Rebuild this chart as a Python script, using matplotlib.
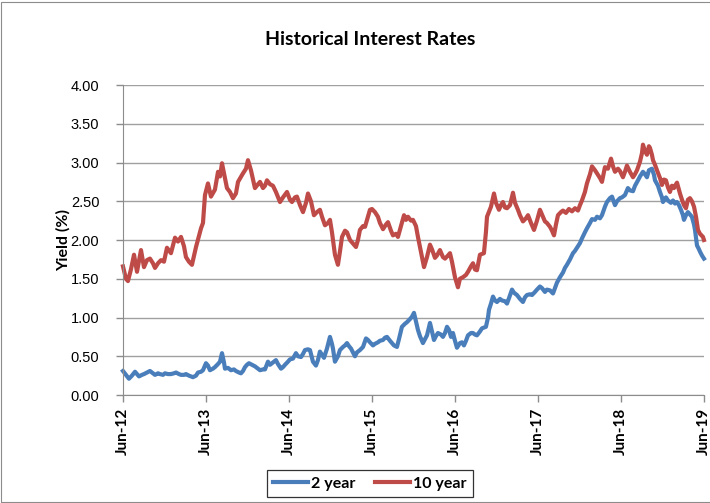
import matplotlib
matplotlib.use("Agg")
import matplotlib.pyplot as plt
from matplotlib.patches import Rectangle

# x positions: years elapsed since June 2012 (10 values per line)
t_10y = [0.000, 0.036, 0.060, 0.096, 0.133, 0.169, 0.217, 0.253, 0.289, 0.325,
         0.361, 0.386, 0.422, 0.458, 0.494, 0.530, 0.578, 0.627, 0.663, 0.699,
         0.735, 0.759, 0.795, 0.831, 0.880, 0.940, 0.964, 0.988, 1.024, 1.060,
         1.108, 1.145, 1.169, 1.193, 1.229, 1.253, 1.289, 1.325, 1.361, 1.386,
         1.446, 1.482, 1.506, 1.542, 1.590, 1.627, 1.651, 1.687, 1.711, 1.735,
         1.771, 1.807, 1.843, 1.892, 1.928, 1.976, 2.012, 2.036, 2.072, 2.096,
         2.133, 2.169, 2.205, 2.229, 2.265, 2.301, 2.337, 2.373, 2.398, 2.434,
         2.470, 2.494, 2.518, 2.554, 2.590, 2.614, 2.639, 2.675, 2.699, 2.735,
         2.759, 2.807, 2.831, 2.855, 2.892, 2.916, 2.952, 2.976, 3.000, 3.036,
         3.072, 3.096, 3.133, 3.169, 3.193, 3.229, 3.253, 3.289, 3.313, 3.349,
         3.386, 3.410, 3.434, 3.470, 3.494, 3.530, 3.554, 3.590, 3.627, 3.663,
         3.699, 3.723, 3.759, 3.783, 3.819, 3.855, 3.880, 3.916, 3.940, 3.964,
         4.000, 4.036, 4.060, 4.096, 4.133, 4.157, 4.193, 4.217, 4.241, 4.265,
         4.301, 4.349, 4.373, 4.386, 4.434, 4.470, 4.494, 4.530, 4.554, 4.578,
         4.602, 4.627, 4.663, 4.699, 4.723, 4.759, 4.783, 4.819, 4.855, 4.880,
         4.916, 4.952, 4.988, 5.024, 5.060, 5.084, 5.108, 5.145, 5.169, 5.193,
         5.217, 5.241, 5.277, 5.301, 5.337, 5.373, 5.410, 5.446, 5.482, 5.506,
         5.530, 5.566, 5.590, 5.627, 5.651, 5.687, 5.711, 5.747, 5.771, 5.807,
         5.843, 5.880, 5.904, 5.928, 5.964, 5.988, 6.024, 6.048, 6.072, 6.108,
         6.145, 6.169, 6.193, 6.229, 6.253, 6.265, 6.289, 6.313, 6.337, 6.349,
         6.373, 6.386, 6.410, 6.434, 6.470, 6.494, 6.518, 6.542, 6.566, 6.590,
         6.614, 6.639, 6.663, 6.675, 6.711, 6.735, 6.759, 6.783, 6.807, 6.831,
         6.855, 6.880, 6.904, 6.928, 6.952, 6.988, 7.000]
v_10y = [1.66, 1.50, 1.47, 1.62, 1.81, 1.59, 1.87, 1.65, 1.74, 1.76,
         1.70, 1.64, 1.70, 1.74, 1.72, 1.90, 1.83, 2.03, 1.98, 2.04,
         1.92, 1.78, 1.72, 1.68, 1.91, 2.15, 2.22, 2.58, 2.73, 2.56,
         2.65, 2.88, 2.82, 2.99, 2.80, 2.67, 2.62, 2.54, 2.60, 2.75,
         2.86, 2.92, 3.03, 2.90, 2.67, 2.72, 2.75, 2.67, 2.70, 2.77,
         2.72, 2.70, 2.62, 2.49, 2.55, 2.62, 2.52, 2.49, 2.55, 2.56,
         2.45, 2.36, 2.48, 2.60, 2.50, 2.32, 2.36, 2.39, 2.30, 2.19,
         2.22, 2.26, 2.10, 1.81, 1.68, 1.85, 2.04, 2.12, 2.10, 2.00,
         1.97, 1.91, 2.00, 2.13, 2.18, 2.17, 2.30, 2.39, 2.40, 2.36,
         2.30, 2.22, 2.14, 2.20, 2.23, 2.12, 2.06, 2.08, 2.04, 2.18,
         2.32, 2.26, 2.30, 2.25, 2.26, 2.18, 2.04, 1.85, 1.65, 1.78,
         1.94, 1.88, 1.77, 1.80, 1.87, 1.78, 1.76, 1.80, 1.83, 1.72,
         1.52, 1.39, 1.50, 1.52, 1.55, 1.59, 1.66, 1.70, 1.62, 1.61,
         1.81, 1.83, 2.10, 2.30, 2.43, 2.60, 2.48, 2.39, 2.45, 2.49,
         2.42, 2.41, 2.45, 2.61, 2.48, 2.39, 2.32, 2.24, 2.28, 2.32,
         2.22, 2.13, 2.25, 2.39, 2.30, 2.24, 2.22, 2.17, 2.12, 2.06,
         2.20, 2.32, 2.36, 2.38, 2.35, 2.40, 2.37, 2.41, 2.38, 2.45,
         2.51, 2.62, 2.73, 2.85, 2.95, 2.90, 2.86, 2.80, 2.75, 2.94,
         2.92, 3.05, 2.95, 2.88, 2.92, 2.89, 2.81, 2.88, 2.96, 2.88,
         2.81, 2.85, 2.90, 3.01, 3.12, 3.23, 3.15, 3.10, 3.21, 3.19,
         3.10, 3.03, 2.97, 2.90, 2.80, 2.71, 2.78, 2.77, 2.68, 2.62,
         2.70, 2.67, 2.72, 2.74, 2.60, 2.52, 2.45, 2.41, 2.52, 2.54,
         2.50, 2.43, 2.30, 2.13, 2.08, 2.04, 2.00]

t_2y = [0.000, 0.036, 0.072, 0.108, 0.145, 0.169, 0.193, 0.229, 0.253, 0.289,
        0.325, 0.361, 0.386, 0.422, 0.446, 0.482, 0.506, 0.542, 0.578, 0.614,
        0.639, 0.675, 0.699, 0.735, 0.759, 0.795, 0.819, 0.843, 0.880, 0.904,
        0.940, 0.964, 1.000, 1.024, 1.048, 1.084, 1.108, 1.145, 1.169, 1.193,
        1.217, 1.229, 1.265, 1.301, 1.337, 1.361, 1.398, 1.422, 1.446, 1.470,
        1.494, 1.518, 1.554, 1.590, 1.627, 1.651, 1.687, 1.711, 1.747, 1.771,
        1.807, 1.843, 1.867, 1.904, 1.928, 1.952, 1.988, 2.012, 2.048, 2.084,
        2.108, 2.145, 2.169, 2.193, 2.229, 2.253, 2.289, 2.325, 2.349, 2.373,
        2.398, 2.422, 2.458, 2.494, 2.518, 2.530, 2.554, 2.590, 2.614, 2.651,
        2.675, 2.699, 2.723, 2.747, 2.771, 2.795, 2.819, 2.855, 2.892, 2.928,
        2.952, 2.976, 3.012, 3.036, 3.072, 3.096, 3.133, 3.157, 3.181, 3.217,
        3.241, 3.265, 3.301, 3.325, 3.361, 3.398, 3.422, 3.458, 3.482, 3.506,
        3.530, 3.554, 3.578, 3.614, 3.639, 3.663, 3.699, 3.723, 3.747, 3.771,
        3.795, 3.831, 3.855, 3.880, 3.904, 3.928, 3.952, 3.976, 4.000, 4.024,
        4.060, 4.084, 4.108, 4.133, 4.157, 4.193, 4.217, 4.241, 4.265, 4.301,
        4.325, 4.349, 4.373, 4.398, 4.410, 4.434, 4.458, 4.482, 4.506, 4.542,
        4.566, 4.602, 4.627, 4.651, 4.687, 4.711, 4.747, 4.783, 4.819, 4.843,
        4.867, 4.904, 4.928, 4.964, 4.988, 5.024, 5.048, 5.084, 5.108, 5.145,
        5.181, 5.205, 5.229, 5.265, 5.301, 5.325, 5.349, 5.386, 5.422, 5.446,
        5.470, 5.506, 5.530, 5.566, 5.590, 5.627, 5.651, 5.687, 5.711, 5.747,
        5.771, 5.807, 5.831, 5.867, 5.892, 5.928, 5.952, 5.988, 6.012, 6.048,
        6.084, 6.108, 6.145, 6.169, 6.205, 6.229, 6.265, 6.289, 6.313, 6.337,
        6.373, 6.398, 6.410, 6.446, 6.470, 6.494, 6.506, 6.542, 6.566, 6.602,
        6.627, 6.651, 6.675, 6.699, 6.723, 6.747, 6.759, 6.783, 6.807, 6.831,
        6.855, 6.880, 6.892, 6.916, 6.940, 6.952, 6.976, 7.000]
v_2y = [0.31, 0.26, 0.21, 0.25, 0.30, 0.27, 0.24, 0.26, 0.27, 0.29,
        0.31, 0.28, 0.26, 0.28, 0.27, 0.26, 0.28, 0.27, 0.27, 0.28,
        0.29, 0.27, 0.26, 0.26, 0.27, 0.25, 0.24, 0.23, 0.25, 0.29,
        0.30, 0.32, 0.41, 0.38, 0.32, 0.34, 0.36, 0.40, 0.43, 0.54,
        0.42, 0.34, 0.35, 0.32, 0.33, 0.31, 0.29, 0.28, 0.31, 0.36,
        0.39, 0.41, 0.39, 0.37, 0.34, 0.32, 0.33, 0.33, 0.43, 0.39,
        0.42, 0.45, 0.40, 0.34, 0.36, 0.39, 0.43, 0.46, 0.47, 0.54,
        0.50, 0.49, 0.53, 0.58, 0.59, 0.58, 0.43, 0.38, 0.45, 0.56,
        0.52, 0.48, 0.60, 0.75, 0.66, 0.60, 0.43, 0.50, 0.58, 0.62,
        0.64, 0.67, 0.63, 0.60, 0.55, 0.50, 0.55, 0.58, 0.62, 0.73,
        0.71, 0.68, 0.64, 0.66, 0.68, 0.70, 0.71, 0.74, 0.75, 0.70,
        0.67, 0.64, 0.62, 0.72, 0.88, 0.92, 0.94, 0.98, 1.01, 1.06,
        0.95, 0.84, 0.76, 0.67, 0.72, 0.77, 0.93, 0.82, 0.71, 0.76,
        0.80, 0.78, 0.75, 0.80, 0.88, 0.84, 0.75, 0.80, 0.70, 0.61,
        0.67, 0.68, 0.64, 0.70, 0.77, 0.80, 0.80, 0.78, 0.77, 0.82,
        0.86, 0.87, 0.88, 1.00, 1.10, 1.18, 1.27, 1.22, 1.20, 1.24,
        1.22, 1.21, 1.18, 1.25, 1.36, 1.32, 1.29, 1.24, 1.20, 1.26,
        1.29, 1.30, 1.29, 1.33, 1.36, 1.40, 1.38, 1.33, 1.36, 1.35,
        1.31, 1.38, 1.45, 1.52, 1.58, 1.64, 1.68, 1.75, 1.83, 1.86,
        1.90, 1.96, 2.02, 2.10, 2.15, 2.22, 2.27, 2.26, 2.30, 2.28,
        2.32, 2.43, 2.49, 2.54, 2.56, 2.45, 2.50, 2.54, 2.55, 2.58,
        2.67, 2.64, 2.63, 2.70, 2.77, 2.82, 2.88, 2.85, 2.81, 2.90,
        2.92, 2.84, 2.77, 2.70, 2.62, 2.55, 2.49, 2.55, 2.51, 2.48,
        2.51, 2.47, 2.49, 2.45, 2.39, 2.32, 2.26, 2.32, 2.36, 2.33,
        2.30, 2.20, 2.13, 1.93, 1.88, 1.85, 1.80, 1.76]

tick_pos = [0, 1, 2, 3, 4, 5, 6, 7]
tick_labels = ["Jun-12", "Jun-13", "Jun-14", "Jun-15", "Jun-16", "Jun-17", "Jun-18", "Jun-19"]
y_ticks = [0.0, 0.5, 1.0, 1.5, 2.0, 2.5, 3.0, 3.5, 4.0]

n2 = min(len(t_2y), len(v_2y))
n10 = min(len(t_10y), len(v_10y))

BOLD = ["Lato", "DejaVu Sans"]

fig = plt.figure(figsize=(7.10, 5.03), dpi=100)
fig.patches.append(Rectangle((0.001, 0.001), 1.2, 0.996, transform=fig.transFigure,
                             fill=False, edgecolor="#8c8c8c", linewidth=0.8))
ax = fig.add_axes([0.1732, 0.2147, 0.8183, 0.6163])

ax.plot(t_2y[:n2], v_2y[:n2], color="#4a7ebb", lw=3.0, label="2 year",
        solid_joinstyle="round", clip_on=False)
ax.plot(t_10y[:n10], v_10y[:n10], color="#be4b48", lw=3.0, label="10 year",
        solid_joinstyle="round", clip_on=False)

ax.set_xlim(0, 7)
ax.set_ylim(0, 4)
ax.set_yticks(y_ticks)
ax.set_yticklabels([f"{v:.2f}" for v in y_ticks], fontsize=10.5, family=["Liberation Sans"])
ax.set_xticks(tick_pos)
ax.set_xticklabels(tick_labels, rotation=90, fontsize=11, fontweight="bold", family=BOLD)
ax.yaxis.grid(True, color="#a0a0a0", lw=1.0)
ax.set_axisbelow(True)
for s in ["top", "right"]:
    ax.spines[s].set_visible(False)
for s in ["left", "bottom"]:
    ax.spines[s].set_color("#8c8c8c")
ax.tick_params(axis="both", color="#8c8c8c", length=5, width=1)
ax.tick_params(axis="y", pad=12)
ax.tick_params(axis="x", pad=4)

ax.set_ylabel("Yield (%)", fontsize=11.5, fontweight="bold", family=BOLD, labelpad=0)
fig.text(0.521, 0.922, "Historical Interest Rates", ha="center", va="center",
         fontsize=14, fontweight="bold", family=BOLD)

leg = fig.legend(loc="center", bbox_to_anchor=(0.521, 0.038), ncol=2, frameon=True,
                 fancybox=False, edgecolor="black", handlelength=2.2, handletextpad=0.2,
                 columnspacing=1.2, prop={"family": BOLD, "weight": "bold", "size": 11.5})
leg.get_frame().set_linewidth(0.9)

fig.savefig("out.png", dpi=100)
